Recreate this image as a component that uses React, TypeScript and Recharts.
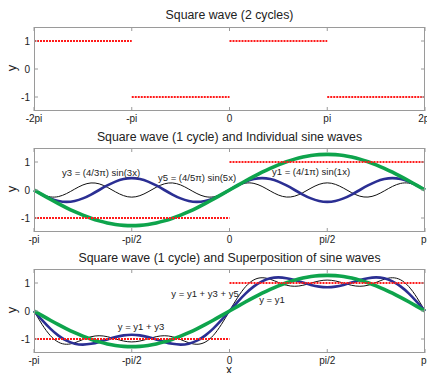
import React from 'react';
import { LineChart, Line, XAxis, YAxis } from 'recharts';

const FONT = '"Liberation Sans", Arial, Helvetica, sans-serif';
const PLOT_W = 391;
const PLOT_H = 84;
const FRAME = '#9a9a9a';

// x positions in degrees (pi = 180)
const xs = [
  -180, -172.5, -165, -157.5, -150, -142.5, -135, -127.5, -120, -112.5, -105, -97.5,
  -90, -82.5, -75, -67.5, -60, -52.5, -45, -37.5, -30, -22.5, -15, -7.5,
  0, 7.5, 15, 22.5, 30, 37.5, 45, 52.5, 60, 67.5, 75, 82.5,
  90, 97.5, 105, 112.5, 120, 127.5, 135, 142.5, 150, 157.5, 165, 172.5, 180,
];

const y1 = [
  0, -0.166, -0.33, -0.487, -0.637, -0.775, -0.9, -1.01, -1.103, -1.176, -1.23, -1.262,
  -1.273, -1.262, -1.23, -1.176, -1.103, -1.01, -0.9, -0.775, -0.637, -0.487, -0.33, -0.166,
  0, 0.166, 0.33, 0.487, 0.637, 0.775, 0.9, 1.01, 1.103, 1.176, 1.23, 1.262,
  1.273, 1.262, 1.23, 1.176, 1.103, 1.01, 0.9, 0.775, 0.637, 0.487, 0.33, 0.166, 0,
];

const y3 = [
  0, -0.162, -0.3, -0.392, -0.424, -0.392, -0.3, -0.162, 0, 0.162, 0.3, 0.392,
  0.424, 0.392, 0.3, 0.162, 0, -0.162, -0.3, -0.392, -0.424, -0.392, -0.3, -0.162,
  0, 0.162, 0.3, 0.392, 0.424, 0.392, 0.3, 0.162, 0, -0.162, -0.3, -0.392,
  -0.424, -0.392, -0.3, -0.162, 0, 0.162, 0.3, 0.392, 0.424, 0.392, 0.3, 0.162, 0,
];

const y5 = [
  0, -0.155, -0.246, -0.235, -0.127, 0.033, 0.18, 0.252, 0.22, 0.097, -0.066, -0.202,
  -0.255, -0.202, -0.066, 0.097, 0.22, 0.252, 0.18, 0.033, -0.127, -0.235, -0.246, -0.155,
  0, 0.155, 0.246, 0.235, 0.127, -0.033, -0.18, -0.252, -0.22, -0.097, 0.066, 0.202,
  0.255, 0.202, 0.066, -0.097, -0.22, -0.252, -0.18, -0.033, 0.127, 0.235, 0.246, 0.155, 0,
];

const y13 = [
  0, -0.328, -0.63, -0.879, -1.061, -1.167, -1.2, -1.172, -1.103, -1.014, -0.93, -0.87,
  -0.849, -0.87, -0.93, -1.014, -1.103, -1.172, -1.2, -1.167, -1.061, -0.879, -0.63, -0.328,
  0, 0.328, 0.63, 0.879, 1.061, 1.167, 1.2, 1.172, 1.103, 1.014, 0.93, 0.87,
  0.849, 0.87, 0.93, 1.014, 1.103, 1.172, 1.2, 1.167, 1.061, 0.879, 0.63, 0.328, 0,
];

const y135 = [
  0, -0.483, -0.876, -1.114, -1.188, -1.134, -1.02, -0.92, -0.883, -0.917, -0.996, -1.072,
  -1.104, -1.072, -0.996, -0.917, -0.883, -0.92, -1.02, -1.134, -1.188, -1.114, -0.876, -0.483,
  0, 0.483, 0.876, 1.114, 1.188, 1.134, 1.02, 0.92, 0.883, 0.917, 0.996, 1.072,
  1.104, 1.072, 0.996, 0.917, 0.883, 0.92, 1.02, 1.134, 1.188, 1.114, 0.876, 0.483, 0,
];

// square wave, null breaks the line at the jumps
const sq2X = [-360, -180, -180, -180, 0, 0, 0, 180, 180, 180, 360];
const sq2Y = [1, 1, null, -1, -1, null, 1, 1, null, -1, -1];
const sq1X = [-180, 0, 0, 0, 180];
const sq1Y = [-1, -1, null, 1, 1];

const xTicks2 = [-360, -180, 0, 180, 360];
const xLabels2 = ['-2pi', '-pi', '0', 'pi', '2pi'];
const xTicks1 = [-180, -90, 0, 90, 180];
const xLabels1 = ['-pi', '-pi/2', '0', 'pi/2', 'pi'];
const yTicks = [-1, 0, 1];

const waves = xs.map((x, i) => ({ x, y1: y1[i], y3: y3[i], y5: y5[i], y13: y13[i], y135: y135[i] }));
const square2 = sq2X.map((x, i) => ({ x, sq: sq2Y[i] }));
const square1 = sq1X.map((x, i) => ({ x, sq: sq1Y[i] }));

const makeXTick = (ticks: number[], labels: string[]) => (props: any) => {
  const { x, y, payload } = props;
  const ax = y - 3;
  const idx = ticks.indexOf(payload.value);
  return (
    <g>
      <line x1={x} y1={ax} x2={x} y2={ax - 4} stroke={FRAME} />
      <line x1={x} y1={ax - PLOT_H} x2={x} y2={ax - PLOT_H + 4} stroke={FRAME} />
      <text x={x} y={y + 8} textAnchor="middle" fontSize={10} fontFamily={FONT} fill="#222">
        {labels[idx]}
      </text>
    </g>
  );
};

const YTick = (props: any) => {
  const { x, y, payload } = props;
  const ax = x + 4;
  return (
    <g>
      <line x1={ax} y1={y} x2={ax + 4} y2={y} stroke={FRAME} />
      <line x1={ax + PLOT_W - 4} y1={y} x2={ax + PLOT_W} y2={y} stroke={FRAME} />
      <text x={x} y={y} dy="0.35em" textAnchor="end" fontSize={10} fontFamily={FONT} fill="#222">
        {payload.value}
      </text>
    </g>
  );
};

const red = { stroke: '#ff1a1a', strokeWidth: 2, strokeDasharray: '2 1' };

interface Note { text: string; x: number; y: number }

const Panel = ({ top, title, titleY, domain, ticks, labels, notes, children }: any) => (
  <div style={{ position: 'absolute', left: 0, top, width: 427, height: 130 }}>
    <div
      style={{
        position: 'absolute', left: 34, top: titleY - 8, width: PLOT_W, textAlign: 'center',
        fontSize: 12.3, lineHeight: '16px', fontFamily: FONT, color: '#222', whiteSpace: 'nowrap',
      }}
    >
      {title}
    </div>
    <div
      style={{
        position: 'absolute', left: 12, top: 68, fontSize: 13, fontFamily: FONT, color: '#222',
        transform: 'translate(-50%, -50%) rotate(-90deg)', lineHeight: '14px',
      }}
    >
      y
    </div>
    <LineChart width={427} height={130} margin={{ top: 27, right: 2, bottom: 0, left: 0 }}>
      <XAxis
        type="number"
        dataKey="x"
        domain={domain}
        ticks={ticks}
        interval={0}
        height={19}
        tickSize={0}
        tickMargin={3}
        axisLine={false}
        tickLine={false}
        tick={makeXTick(ticks, labels)}
      />
      <YAxis
        type="number"
        domain={[-1.5, 1.5]}
        ticks={yTicks}
        interval={0}
        width={34}
        tickSize={0}
        tickMargin={4}
        axisLine={false}
        tickLine={false}
        tick={YTick}
      />
      {children}
    </LineChart>
    <div
      style={{
        position: 'absolute', left: 34, top: 27, width: PLOT_W, height: PLOT_H,
        border: `1px solid ${FRAME}`, boxSizing: 'border-box', pointerEvents: 'none',
      }}
    />
    {(notes || []).map((n: Note) => (
      <div
        key={n.text}
        style={{
          position: 'absolute', left: n.x, top: n.y - top, transform: 'translate(-50%, -50%)',
          fontSize: 9.5, fontFamily: FONT, color: '#222', whiteSpace: 'nowrap', lineHeight: '12px',
        }}
      >
        {n.text}
      </div>
    ))}
  </div>
);

const notes2: Note[] = [
  { text: 'y3 = (4/3π) sin(3x)', x: 101, y: 173 },
  { text: 'y5 = (4/5π) sin(5x)', x: 197, y: 178 },
  { text: 'y1 = (4/1π) sin(1x)', x: 311, y: 172 },
];
const notes3: Note[] = [
  { text: 'y = y1 + y3 + y5', x: 205, y: 294 },
  { text: 'y = y1', x: 272, y: 300 },
  { text: 'y = y1 + y3', x: 141, y: 327 },
];

export default function App() {
  return (
    <div style={{ position: 'absolute', left: 0, top: 0, width: 427, height: 373, background: '#fff', overflow: 'hidden' }}>
      <Panel top={0} title="Square wave (2 cycles)" titleY={15} domain={[-360, 360]} ticks={xTicks2} labels={xLabels2}>
        <Line data={square2} dataKey="sq" type="linear" dot={false} isAnimationActive={false} {...red} />
      </Panel>
      <Panel
        top={121}
        title="Square wave (1 cycle) and Individual sine waves"
        titleY={16}
        domain={[-180, 180]}
        ticks={xTicks1}
        labels={xLabels1}
        notes={notes2}
      >
        <Line data={waves} dataKey="y5" type="natural" dot={false} stroke="#111" strokeWidth={1} isAnimationActive={false} />
        <Line data={waves} dataKey="y3" type="natural" dot={false} stroke="#2b2f93" strokeWidth={2.6} isAnimationActive={false} />
        <Line data={waves} dataKey="y1" type="natural" dot={false} stroke="#0ea44c" strokeWidth={3.6} isAnimationActive={false} />
        <Line data={square1} dataKey="sq" type="linear" dot={false} isAnimationActive={false} {...red} />
      </Panel>
      <Panel
        top={242}
        title="Square wave (1 cycle) and Superposition of sine waves"
        titleY={16}
        domain={[-180, 180]}
        ticks={xTicks1}
        labels={xLabels1}
        notes={notes3}
      >
        <Line data={waves} dataKey="y135" type="natural" dot={false} stroke="#111" strokeWidth={1} isAnimationActive={false} />
        <Line data={waves} dataKey="y13" type="natural" dot={false} stroke="#2b2f93" strokeWidth={2.6} isAnimationActive={false} />
        <Line data={waves} dataKey="y1" type="natural" dot={false} stroke="#0ea44c" strokeWidth={3.6} isAnimationActive={false} />
        <Line data={square1} dataKey="sq" type="linear" dot={false} isAnimationActive={false} {...red} />
      </Panel>
      <div
        style={{
          position: 'absolute', left: 229, top: 370, transform: 'translate(-50%, -50%)',
          fontSize: 12, fontFamily: FONT, color: '#222', lineHeight: '12px',
        }}
      >
        x
      </div>
    </div>
  );
}
